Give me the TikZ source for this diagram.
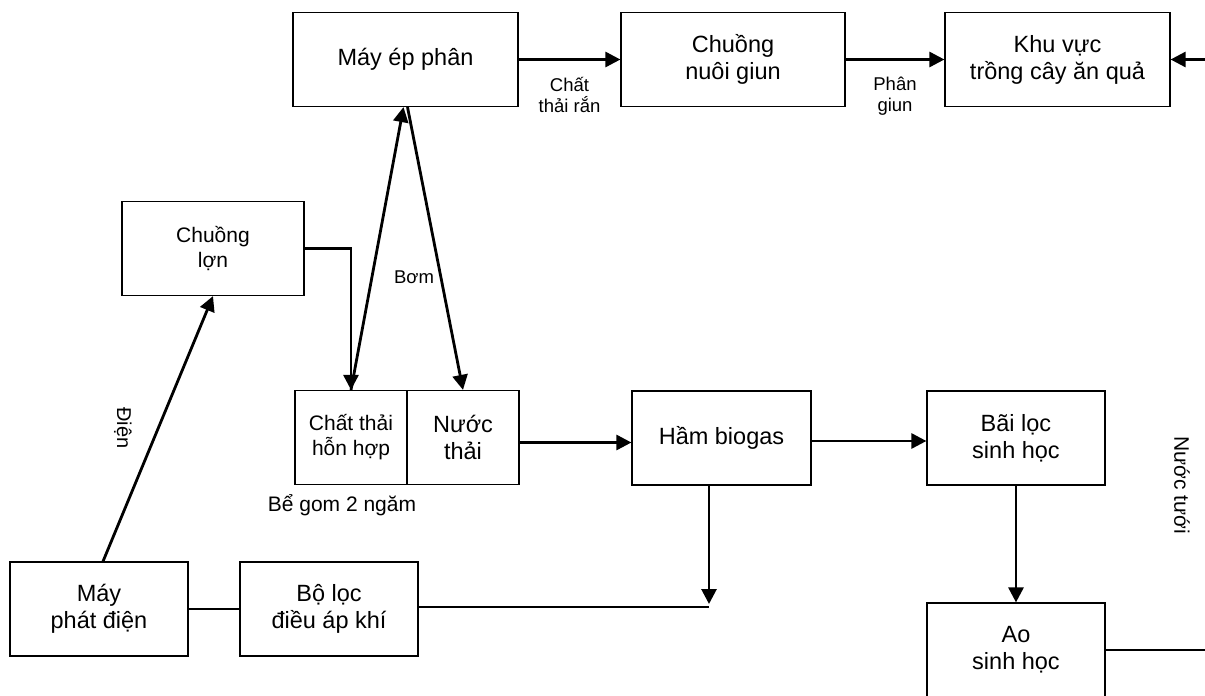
\documentclass[tikz,border=0pt]{standalone}
\usepackage{fontspec}
\setmainfont{Liberation Sans}
\usetikzlibrary{arrows.meta}

\begin{document}
\begin{tikzpicture}
        [x=1pt, y=-1pt,
        box/.style={draw, line width=1.2pt, align=center, inner sep=0pt, minimum width=178pt, minimum height=94pt, font=\fontsize{23.5}{27}\selectfont},
        boxSmall/.style={box, font=\fontsize{21}{25}\selectfont},
        conn/.style={line width=2.8pt},
        connThin/.style={line width=1.9pt},
        lbl/.style={align=center, inner sep=0pt, font=\fontsize{18.5}{21}\selectfont},
        >={Triangle[length=15pt, width=15pt]}]
        \useasboundingbox (0,0) rectangle (1205,696);
        \node[box, minimum width=225pt] (E) at (405.5,59.5) {Máy ép phân};
        \node[box, minimum width=224pt] (G) at (733,59.5) {Chuồng\\nuôi giun};
        \node[box, minimum width=225pt] (K) at (1057.5,59.5) {Khu vực\\trồng cây ăn quả};
        \node[boxSmall, minimum width=182pt] (L) at (213,248.5) {Chuồng\\lợn};
        \node[boxSmall, minimum width=112pt] (H) at (351,437.5) {Chất thải\\hỗn hợp};
        \node[box, minimum width=112pt] (N) at (463,437.5) {Nước\\thải};
        \node[box, minimum width=179pt] (B) at (721.5,438) {Hầm biogas};
        \node[box] (S) at (1016,438) {Bãi lọc\\sinh học};
        \node[box] (A) at (1016,650) {Ao\\sinh học};
        \node[box] (F) at (329,609) {Bộ lọc\\điều áp khí};
        \node[box] (P) at (99,609) {Máy\\phát điện};
        \coordinate (gas) at (709,607);

        \node[lbl] (bom) at (414,277) {Bơm};
        \node[lbl, font=\fontsize{21}{25}\selectfont] (gom) at (342,505) {Bể gom 2 ngăm};
        \node[lbl, font=\fontsize{20}{24}\selectfont, rotate=-90] (dien) at (123,428) {Điện};
        \node[lbl, font=\fontsize{21}{25}\selectfont, rotate=-90] (tuoi) at (1182,485) {Nước tưới};

        \draw[conn, ->] (E) -- (G) node[lbl, midway, below=16pt] (ran) {Chất\\thải rắn};
        \draw[conn, ->] (G) -- (K) node[lbl, midway, below=16pt] (pgiun) {Phân\\giun};
        \draw[conn, ->] (A.east) -- ++(120,0) |- (K.east);
        \draw[conn, ->] (L.east) -| (H.north);
        \draw[conn, ->] (H.north) -- ([xshift=-2pt]E.south);
        \draw[conn, ->] ([xshift=2pt]E.south) -- (N.north);
        \draw[conn, ->] ([yshift=-5pt]N.east) -- ([yshift=-5pt]N.east -| B.west);
        \draw[conn, ->] ([yshift=-3pt]B.east) -- ([yshift=-3pt]S.west);
        \draw[conn, ->] (B.south -| gas) -- ([yshift=3pt]gas);
        \draw[connThin] (F.east |- gas) -- (gas);
        \draw[conn, ->] (S) -- (A);
        \draw[connThin] (P) -- (F);
        \draw[conn, ->] ([xshift=4pt]P.north) -- (L.south);
    \end{tikzpicture}
\end{document}
